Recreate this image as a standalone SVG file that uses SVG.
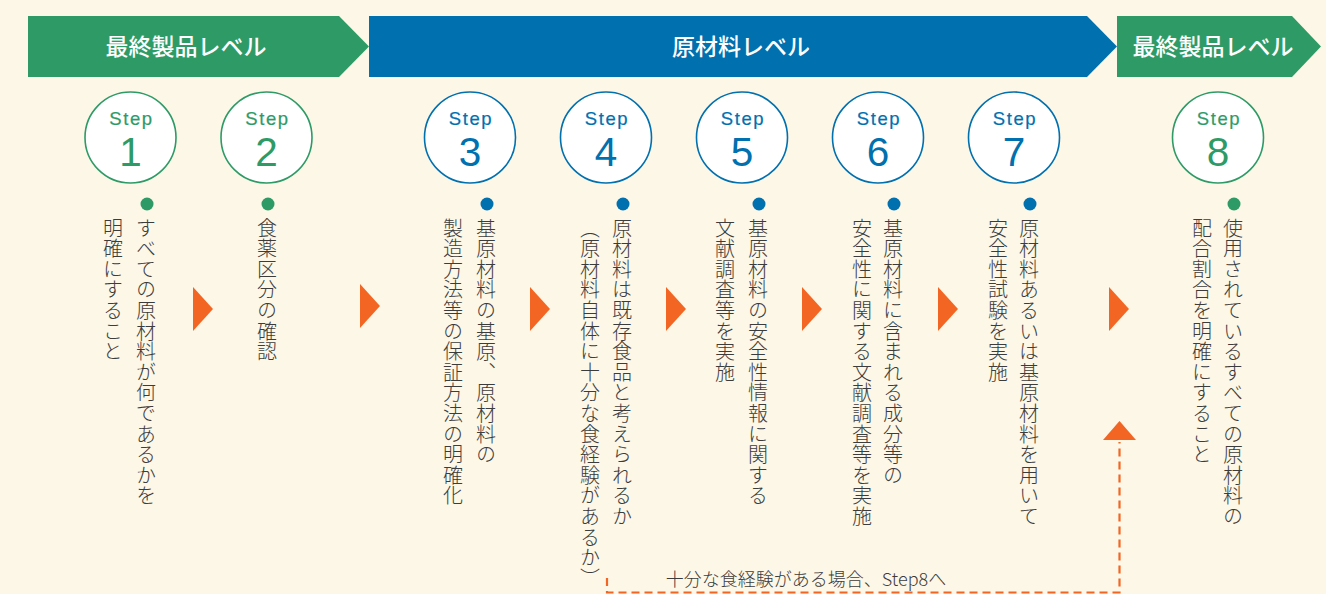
<svg xmlns="http://www.w3.org/2000/svg" width="1326" height="594" viewBox="0 0 1326 594">
<style>
.bg{fill:#FDF7E7}
.g{fill:#2E9B67}
.b{fill:#0070AE}
.ban{font-family:"Noto Sans CJK JP","Noto Sans",sans-serif;font-size:23px;font-weight:500;fill:#FFFFFF;text-anchor:middle}
.cg{fill:#FFFFFF;stroke:#2E9B67;stroke-width:1.6}
.cb{fill:#FFFFFF;stroke:#0070AE;stroke-width:1.6}
.st{font-family:"Liberation Sans",Arial,sans-serif;font-size:18.5px;letter-spacing:1.6px;text-anchor:middle;stroke-width:0.2px}
.stg{fill:#2E9B67;stroke:#2E9B67}
.stb{fill:#0070AE;stroke:#0070AE}
.num{font-family:"Liberation Sans",Arial,sans-serif;font-size:40.5px;font-weight:400;text-anchor:middle}
.v{font-family:"Noto Sans CJK JP",sans-serif;font-size:20px;font-weight:300;fill:#3C3C3C;writing-mode:vertical-rl;letter-spacing:0.6px}
.tri{fill:#F26522}
.dash{fill:none;stroke:#F26522;stroke-width:2.2;stroke-dasharray:8 5}
.note{font-family:"Noto Sans CJK JP",sans-serif;font-size:18px;font-weight:300;fill:#3C3C3C;text-anchor:middle}
</style>
<rect class="bg" x="0" y="0" width="1326" height="594"/>

<g id="banner-final-1">
<polygon class="g" points="28,16 339,16 369,46.5 339,77 28,77"/>
<text class="ban" x="186" y="55">最終製品レベル</text>
</g>
<g id="banner-raw">
<polygon class="b" points="369,16 1087,16 1117,46.5 1087,77 369,77"/>
<text class="ban" x="741" y="55">原材料レベル</text>
</g>
<g id="banner-final-2">
<polygon class="g" points="1117,16 1292,16 1321,46.5 1292,77 1117,77"/>
<text class="ban" x="1213" y="55">最終製品レベル</text>
</g>

<g id="step1">
<circle class="cg" cx="130.5" cy="137.5" r="45.5"/>
<text class="st stg" x="131.5" y="125">Step</text>
<text class="num g" x="130.5" y="166">1</text>
<circle class="g" cx="147" cy="204" r="6.5"/>
<text class="v" x="146" y="218">すべての原材料が何であるかを</text>
<text class="v" x="113" y="218">明確にすること</text>
</g>
<g id="step2">
<circle class="cg" cx="266.5" cy="137.5" r="45.5"/>
<text class="st stg" x="267.5" y="125">Step</text>
<text class="num g" x="266.5" y="166">2</text>
<circle class="g" cx="268" cy="204" r="6.5"/>
<text class="v" x="267" y="218">食薬区分の確認</text>
</g>
<g id="step3">
<circle class="cb" cx="470" cy="137.5" r="45.5"/>
<text class="st stb" x="471" y="125">Step</text>
<text class="num b" x="470" y="166">3</text>
<circle class="b" cx="487" cy="204" r="6.5"/>
<text class="v" x="486" y="218">基原材料の基原、原材料の</text>
<text class="v" x="453" y="218">製造方法等の保証方法の明確化</text>
</g>
<g id="step4">
<circle class="cb" cx="606" cy="137.5" r="45.5"/>
<text class="st stb" x="607" y="125">Step</text>
<text class="num b" x="606" y="166">4</text>
<circle class="b" cx="623" cy="204" r="6.5"/>
<text class="v" x="622" y="218">原材料は既存食品と考えられるか</text>
<text class="v" x="590" y="218">（原材料自体に十分な食経験があるか）</text>
</g>
<g id="step5">
<circle class="cb" cx="742" cy="137.5" r="45.5"/>
<text class="st stb" x="743" y="125">Step</text>
<text class="num b" x="742" y="166">5</text>
<circle class="b" cx="759" cy="204" r="6.5"/>
<text class="v" x="758" y="218">基原材料の安全性情報に関する</text>
<text class="v" x="725" y="218">文献調査等を実施</text>
</g>
<g id="step6">
<circle class="cb" cx="878" cy="137.5" r="45.5"/>
<text class="st stb" x="879" y="125">Step</text>
<text class="num b" x="878" y="166">6</text>
<circle class="b" cx="894" cy="204" r="6.5"/>
<text class="v" x="893" y="218">基原材料に含まれる成分等の</text>
<text class="v" x="862" y="218">安全性に関する文献調査等を実施</text>
</g>
<g id="step7">
<circle class="cb" cx="1014" cy="137.5" r="45.5"/>
<text class="st stb" x="1015" y="125">Step</text>
<text class="num b" x="1014" y="166">7</text>
<circle class="b" cx="1030" cy="204" r="6.5"/>
<text class="v" x="1029" y="218">原材料あるいは基原材料を用いて</text>
<text class="v" x="998" y="218">安全性試験を実施</text>
</g>
<g id="step8">
<circle class="cg" cx="1218" cy="137.5" r="45.5"/>
<text class="st stg" x="1219" y="125">Step</text>
<text class="num g" x="1218" y="166">8</text>
<circle class="g" cx="1234" cy="204" r="6.5"/>
<text class="v" x="1233" y="218">使用されているすべての原材料の</text>
<text class="v" x="1202" y="218">配合割合を明確にすること</text>
</g>

<g id="connectors">
<polygon class="tri" points="193,287 213,309 193,331"/>
<polygon class="tri" points="360,284 380,306 360,328"/>
<polygon class="tri" points="530,287 550,309 530,331"/>
<polygon class="tri" points="666,287 686,309 666,331"/>
<polygon class="tri" points="802,287 822,309 802,331"/>
<polygon class="tri" points="938,287 958,309 938,331"/>
<polygon class="tri" points="1109,287 1129,309 1109,331"/>
<path class="dash" d="M607,578 L607,592.5 L1119.5,592.5 L1119.5,442"/>
<polygon class="tri" points="1103,440 1119.5,421 1136,440"/>
<text class="note" x="806" y="586">十分な食経験がある場合、Step8へ</text>
</g>
</svg>
